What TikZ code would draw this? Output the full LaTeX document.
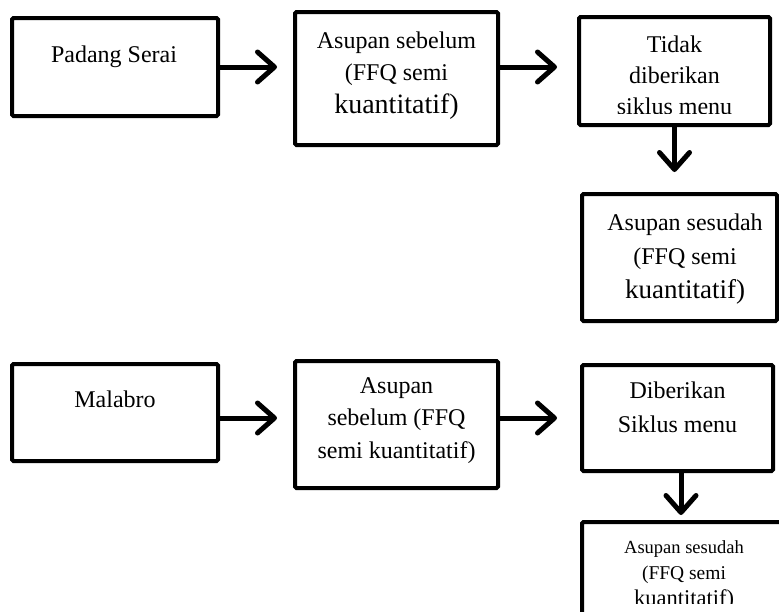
\documentclass[tikz,border=0pt]{standalone}
\usepackage{fontspec}
\setmainfont{Liberation Serif}
\usetikzlibrary{arrows.meta}
\tikzset{
  box/.style={draw, line width=4pt, rounded corners=1.5pt, fill=white, inner sep=0pt},
  txt/.style={inner sep=0pt, anchor=base, align=center},
  arr/.style={line width=5pt, -{Straight Barb[length=17pt, width=30pt, round]}},
}
\newcommand{\fs}[2]{\fontsize{#1}{#2}\selectfont}
\begin{document}
\begin{tikzpicture}[x=1pt, y=-1pt]
\useasboundingbox (0,0) rectangle (779,611);
\clip (0,0) rectangle (779,611);
\fill[white] (0,0) rectangle (779,611);
% boxes
\node[box, minimum width=206pt, minimum height=98pt]  (b1) at (115,67) {};
\node[box, minimum width=203pt, minimum height=133pt] (b2) at (396.5,78.5) {};
\node[box, minimum width=191pt, minimum height=108pt] (b3) at (674.5,71) {};
\node[box, minimum width=195pt, minimum height=127pt] (b4) at (679.5,257.5) {};
\node[box, minimum width=206pt, minimum height=97pt]  (b5) at (115,412.5) {};
\node[box, minimum width=203pt, minimum height=127pt] (b6) at (396.5,424.5) {};
\node[box, minimum width=191pt, minimum height=106pt] (b7) at (677.5,418) {};
\node[box, minimum width=213pt, minimum height=118pt] (b8) at (688.5,581) {};
% texts (anchor = baseline of the last line)
\node[txt, font=\fs{24}{33}] (t1) at (114,62) {Padang Serai};
\node[txt, font=\fs{24}{32.5}] (t2) at (396.5,113) {Asupan sebelum\\(FFQ semi\\{\fs{28}{33}kuantitatif)}};
\begin{scope}
  \clip (579,17) rectangle (770,113);
  \node[txt, font=\fs{24}{31}] (t3) at (674.5,114) {Tidak\\diberikan\\siklus menu};
\end{scope}
\node[txt, font=\fs{24}{34}] (t4) at (685,298) {Asupan sesudah\\(FFQ semi\\{\fs{27}{33}kuantitatif)}};
\node[txt, font=\fs{24}{33}] (t5) at (115,407) {Malabro};
\node[txt, font=\fs{24}{32.5}] (t6) at (396.5,458) {Asupan\\sebelum (FFQ\\semi kuantitatif)};
\node[txt, font=\fs{24}{34}] (t7) at (677.5,432) {Diberikan\\Siklus menu};
\begin{scope}
  \clip (582,522) rectangle (779,603);
  \node[txt, font=\fs{18.5}{26}] (t8) at (684,605) {Asupan sesudah\\{\fs{19.5}{26}(FFQ semi}\\{\fs{22.5}{26}kuantitatif)}};
\end{scope}
% arrows
\draw[arr, shorten >=16pt] (b1.east) -- (b1.east -| b2.west);
\draw[arr, shorten >=20pt] (b2.east |- b1.east) -- (b3.west |- b1.east);
\draw[arr, shorten >=20pt] (b3.south) -- (b3.south |- b4.north);
\draw[arr, shorten >=16pt] (b5.east |- b7.center) -- (b6.west |- b7.center);
\draw[arr, shorten >=23pt] (b6.east |- b7.center) -- (b7.west);
\draw[arr, shorten >=5pt] ([xshift=3.5pt]b7.south) -- ([xshift=3.5pt]b7.south |- b8.north);
\end{tikzpicture}
\end{document}
